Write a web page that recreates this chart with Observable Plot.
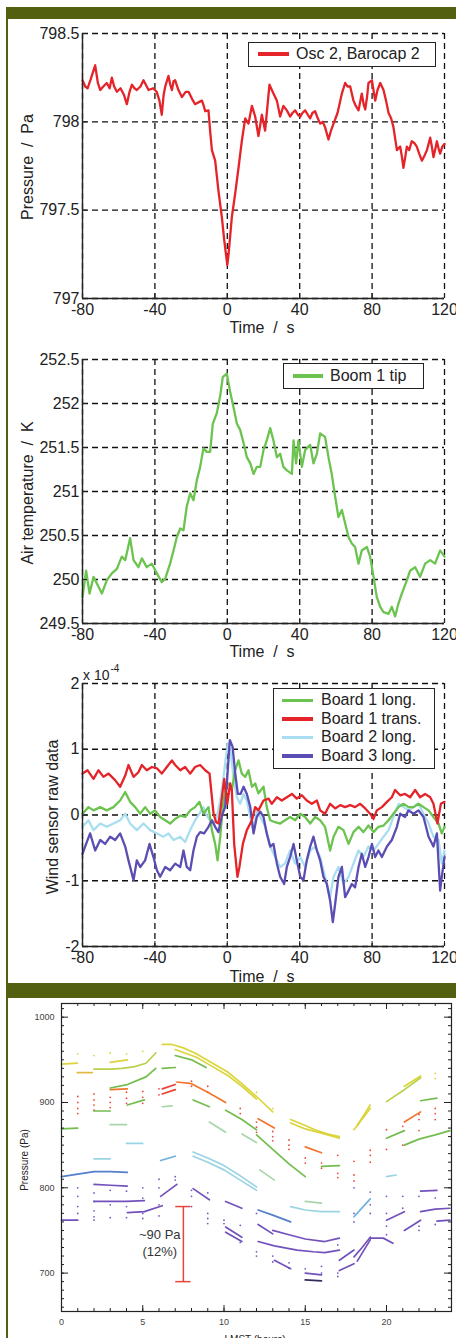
<!DOCTYPE html>
<html><head><meta charset="utf-8">
<script src="https://cdn.jsdelivr.net/npm/d3@7"></script>
<script src="https://cdn.jsdelivr.net/npm/@observablehq/plot@0.6"></script>
<style>
body{margin:0;background:#fff;}
#root{position:relative;width:456px;height:1338px;overflow:hidden;font-family:"Liberation Sans",Arial,sans-serif;color:#222;background:#fff;}
.bar{position:absolute;background:#526010;z-index:5;}
.panel{position:absolute;left:0;}
.lbl{position:absolute;white-space:pre;font-size:16px;line-height:16px;color:#222;}
.legend{position:absolute;border:1.5px solid #222;background:#fff;box-sizing:border-box;z-index:3;}
.legend .sw{position:absolute;height:3.5px;}
.legend .tx{position:absolute;font-size:16px;line-height:16px;white-space:pre;color:#222;}
</style></head>
<body><div id="root"></div>
<script>
// ---------------- DATA ----------------
const timeTicks = [-80, -40, 0, 40, 80, 120];
const pressureTicks = [797, 797.5, 798, 798.5];
const tempTicks = [249.5, 250, 250.5, 251, 251.5, 252, 252.5];
const windTicks = [-2, -1, 0, 1, 2];

// Panel 1: Osc 2, Barocap 2 (time s, pressure Pa)
const baroCap2 = [[-80,798.235],[-78.5,798.2],[-77.2,798.19],[-75.5,798.24],[-73,798.32],[-71.5,798.22],[-70.2,798.18],[-68.5,798.2],[-66.6,798.22],[-65,798.19],[-63.8,798.25],[-62.5,798.2],[-61,798.17],[-59,798.19],[-57,798.15],[-55.5,798.10],[-54,798.17],[-52.7,798.21],[-51.3,798.19],[-50,798.18],[-48,798.2],[-46.3,798.235],[-45,798.21],[-43.5,798.18],[-41,798.19],[-39,798.17],[-37.5,798.12],[-36.2,798.04],[-35.2,798.15],[-34.3,798.2],[-32.5,798.26],[-31.5,798.21],[-30.6,798.18],[-29.7,798.23],[-28.8,798.235],[-27,798.18],[-25.1,798.14],[-23,798.17],[-21.4,798.17],[-19.5,798.13],[-17.8,798.10],[-16,798.11],[-14,798.12],[-13,798.09],[-12.2,798.06],[-10.4,798.065],[-9.5,797.95],[-8.5,797.84],[-6.7,797.78],[-4.9,797.61],[-3,797.46],[-1.7,797.33],[0,797.19],[0.7,797.25],[2.5,797.46],[4.3,797.59],[6.2,797.74],[8,797.89],[9.9,798.02],[11.7,797.99],[13.6,798.09],[15.4,798.03],[17.2,797.92],[19.1,798.04],[20.9,797.95],[23.3,798.21],[25.5,798.16],[27.4,798.12],[29.2,798.03],[31,798.09],[32.9,798.065],[34.7,798.03],[36,798.05],[37.5,798.065],[39,798.04],[40.3,798.03],[41.5,798.05],[43,798.065],[44.5,798.04],[45.8,798.02],[47,798.05],[48.5,798.06],[50,798.02],[51.3,797.99],[52.7,798.0],[54,797.97],[55.9,797.9],[57.3,797.95],[58.7,797.99],[60.9,798.05],[62,798.1],[63.3,798.16],[65.1,798.22],[66.5,798.2],[67.9,798.2],[69.7,798.12],[71,798.09],[72.5,798.065],[74.3,798.16],[75.3,798.1],[76.2,798.07],[77.2,798.14],[78,798.22],[79.9,798.235],[81.7,798.12],[83,798.18],[84.5,798.22],[86.3,798.18],[87.7,798.12],[89.1,798.05],[90.5,798.02],[91.8,797.97],[93.7,797.84],[95.5,797.86],[96.5,797.8],[97.3,797.74],[98.3,797.8],[99.2,797.86],[100.5,797.84],[101.9,797.89],[103.3,797.88],[104.7,797.86],[106,797.82],[107.5,797.78],[109,797.81],[110.3,797.84],[112.1,797.91],[113,797.86],[113.9,797.8],[115,797.85],[115.8,797.89],[116.7,797.85],[117.6,797.82],[118.8,797.86],[120,797.875]];

// Panel 2: Boom 1 tip (time s, air temperature K)
const boom1Tip = [[-80,249.80],[-78,250.1],[-76.1,249.84],[-73.9,250.03],[-71.2,249.92],[-69.3,249.84],[-66.6,249.99],[-63.8,250.07],[-61,250.12],[-58.3,250.26],[-56.4,250.22],[-53.7,250.47],[-51.8,250.22],[-49.1,250.14],[-47.2,250.24],[-44.5,250.14],[-41.7,250.18],[-38.9,250.07],[-36.2,249.97],[-34.3,250.01],[-31.6,250.18],[-29.7,250.33],[-27.9,250.48],[-26,250.58],[-24.2,250.56],[-22.4,250.83],[-20.5,250.98],[-18.7,250.9],[-16.8,251.13],[-15,251.28],[-13.2,251.49],[-11.3,251.45],[-9.5,251.45],[-8,251.77],[-5.8,251.89],[-3.9,252.09],[-2.5,252.30],[-0.3,252.34],[1.6,252.13],[3.4,251.96],[5.3,251.77],[7.1,251.70],[9,251.55],[10.8,251.39],[12.7,251.32],[14.5,251.2],[16.3,251.28],[18.2,251.28],[20,251.47],[21.8,251.58],[23.7,251.72],[25.5,251.58],[27.4,251.39],[29.2,251.43],[31,251.28],[32.9,251.24],[35.7,251.2],[36.6,251.58],[38,251.32],[39.3,251.58],[41.2,251.28],[43,251.47],[45.8,251.53],[47.6,251.32],[49.5,251.43],[51.3,251.66],[54,251.62],[55.9,251.39],[57.7,251.2],[59.6,250.94],[61.4,250.71],[63.3,250.79],[65.1,250.64],[67,250.48],[68.8,250.41],[70.6,250.37],[72.5,250.18],[74.3,250.33],[77.1,250.37],[78.9,250.26],[80.8,250.03],[82.6,249.80],[84.5,249.69],[86.3,249.63],[89.1,249.61],[90.9,249.69],[92.7,249.58],[94.6,249.73],[96.4,249.84],[99.2,249.99],[101,250.1],[103.8,250.14],[106.5,250.03],[109.3,250.18],[112.1,250.22],[114.8,250.18],[117.6,250.33],[120,250.26]];

// Panel 3: wind sensor raw data (units of 1e-4)
const board1Long = [[-80,0.02],[-76.7,0.12],[-73.9,0.07],[-70.2,0.12],[-66.6,0.07],[-62.9,0.12],[-59.2,0.22],[-56.4,0.35],[-53.7,0.20],[-50.9,0.12],[-48.1,0.02],[-45.4,0.12],[-42.6,0.02],[-39.9,0.07],[-37.1,-0.03],[-34.3,-0.08],[-31.6,-0.13],[-28.8,-0.06],[-26,-0.01],[-23.3,-0.03],[-20.5,0.07],[-17.8,0.12],[-15.4,0.20],[-13.2,0.02],[-10.4,0.12],[-8.5,-0.23],[-6.7,-0.44],[-5.4,-0.69],[-3.9,-0.33],[-2.5,0.12],[-1.2,0.38],[0.7,0.48],[2.5,0.38],[4.3,0.68],[6.2,0.83],[8,0.63],[9.9,0.58],[11.7,0.68],[13.6,0.43],[15.4,0.48],[17.2,0.33],[20,0.43],[21.8,0.12],[23.7,-0.08],[26.4,-0.11],[29.2,-0.13],[31.9,-0.08],[34.7,-0.03],[37.5,-0.08],[40.3,0.02],[43,-0.03],[45.8,-0.13],[48.5,-0.03],[51.3,-0.08],[54,-0.18],[56.8,-0.54],[58.7,-0.33],[61.4,-0.18],[64.2,-0.23],[67,-0.44],[69.7,-0.26],[72.5,-0.18],[75.2,-0.26],[78,-0.16],[80.8,-0.26],[83.5,-0.18],[86.3,-0.16],[89.1,-0.08],[91.8,0.02],[94.6,0.12],[97.3,0.17],[100.1,0.12],[102.9,0.12],[105.6,0.17],[108.4,0.12],[111.2,0.07],[113.9,-0.03],[116.7,-0.13],[118.5,-0.28],[120,-0.18]];
const board1Trans = [[-80,0.63],[-77.2,0.68],[-73.9,0.55],[-71.2,0.68],[-68.4,0.58],[-65.6,0.63],[-62,0.53],[-59.2,0.43],[-56.4,0.60],[-54.6,0.76],[-51.8,0.58],[-49.1,0.65],[-47.2,0.76],[-44.5,0.68],[-41.7,0.73],[-38.9,0.71],[-36.2,0.63],[-33.4,0.73],[-30.6,0.83],[-28.8,0.76],[-26,0.68],[-23.3,0.73],[-20.5,0.63],[-17.8,0.73],[-15,0.76],[-12.2,0.68],[-9.8,0.63],[-8.9,0.38],[-7.6,0.02],[-6.2,-0.11],[-4.9,-0.13],[-3.6,0.12],[-2.5,0.38],[-1.7,0.55],[0,0.17],[1.6,0.48],[2.5,0.38],[3.8,-0.44],[5.6,-0.94],[6.7,-0.79],[8.6,-0.44],[10.8,-0.23],[13.6,-0.08],[15.4,0.12],[17.2,0.07],[20,0.22],[22.8,0.25],[24.6,0.17],[27.4,0.27],[30.1,0.22],[32.9,0.27],[35.7,0.32],[38.4,0.25],[41.2,0.30],[43.9,0.22],[46.7,0.17],[49.5,0.22],[51.3,0.07],[54,0.02],[56.8,0.17],[59.6,0.10],[62.4,0.15],[65.1,0.12],[67.9,0.15],[70.6,0.12],[73.4,0.17],[76.2,0.10],[78.9,0.02],[80.8,-0.06],[82.6,0.07],[85.4,0.12],[88.2,0.20],[90.9,0.27],[92.7,0.38],[95.5,0.30],[98.2,0.32],[101,0.27],[103.8,0.38],[106.5,0.27],[109.3,0.32],[112.1,0.27],[113.9,0.17],[116.1,-0.13],[118,0.17],[120,0.20]];
const board2Long = [[-80,-0.18],[-76.7,-0.08],[-73.9,-0.23],[-70.2,-0.13],[-66.6,-0.18],[-62.9,-0.13],[-59.2,-0.08],[-56.4,0.02],[-53.7,-0.13],[-50,-0.23],[-46.3,-0.13],[-42.6,-0.23],[-38.9,-0.28],[-35.3,-0.33],[-32.5,-0.28],[-29.7,-0.38],[-26,-0.33],[-23.3,-0.41],[-20.5,-0.23],[-17.8,-0.08],[-15.4,0.02],[-13.2,0.12],[-11.3,-0.01],[-9.5,-0.08],[-7.6,-0.13],[-5.8,-0.03],[-3.9,0.22],[-2.5,0.48],[-1,0.83],[0.5,1.09],[2,0.93],[3.4,0.58],[5.3,0.27],[7.1,0.17],[9,0.32],[10.8,0.22],[12.7,-0.03],[14.5,-0.23],[16.3,0.07],[18.2,-0.03],[20.9,-0.18],[23.7,-0.48],[26.4,-0.64],[29.2,-0.79],[31.9,-0.74],[34.7,-0.54],[37.5,-0.74],[40.3,-0.64],[43,-0.79],[45.8,-0.54],[48.5,-0.48],[51.3,-0.64],[54,-0.94],[56.8,-1.25],[58.7,-0.94],[61.4,-0.79],[64.2,-1.05],[67,-0.94],[69.7,-0.74],[72.5,-0.54],[75.2,-0.64],[78,-0.48],[80.8,-0.54],[83.5,-0.44],[86.3,-0.33],[89.1,-0.23],[91.8,-0.03],[94.6,0.17],[97.3,0.12],[100.1,0.07],[102.9,0.12],[105.6,0.17],[108.4,0.02],[111.2,-0.13],[113.9,-0.33],[116.7,-0.38],[118.5,-0.74],[120,-0.54]];
const board3Long = [[-80,-0.59],[-78,-0.44],[-75.8,-0.28],[-73,-0.54],[-70.2,-0.38],[-67.5,-0.44],[-64.7,-0.33],[-62,-0.38],[-59.2,-0.28],[-56.4,-0.48],[-54.6,-0.69],[-51.8,-0.99],[-50,-0.69],[-48.1,-0.79],[-45.4,-0.69],[-43,-0.44],[-40.8,-0.64],[-38.9,-0.84],[-37.1,-0.94],[-34.3,-0.79],[-31.6,-0.84],[-28.8,-0.74],[-26,-0.79],[-24.2,-0.54],[-22.4,-0.79],[-20.5,-0.84],[-18.7,-0.54],[-16.8,-0.33],[-15,-0.26],[-12.8,-0.28],[-10.4,-0.18],[-8.5,-0.08],[-6.7,-0.18],[-4.9,-0.26],[-3,-0.01],[-1.2,0.12],[0,0.58],[1.4,1.14],[2.9,1.04],[4.4,0.63],[5.8,0.32],[7.3,0.32],[9,0.43],[10.8,0.32],[12.7,0.12],[14.5,-0.28],[16.3,-0.03],[18.2,0.05],[20,-0.03],[21.8,-0.28],[23.7,-0.48],[25.5,-0.44],[27.4,-0.74],[29.2,-0.94],[31.4,-1.05],[32.9,-0.79],[34.7,-0.64],[36.6,-0.44],[38.4,-0.69],[40.3,-0.94],[42.1,-0.99],[43.9,-0.69],[45.8,-0.48],[47.6,-0.33],[49.5,-0.54],[51.3,-0.69],[53.1,-0.94],[55,-1.05],[56.8,-1.30],[58.3,-1.63],[59.6,-1.35],[61.4,-0.94],[63.3,-0.79],[65.1,-1.25],[67,-1.15],[68.8,-1.05],[70.6,-1.10],[72.5,-0.79],[74.3,-0.59],[76.2,-0.79],[78,-0.64],[79.9,-0.44],[81.7,-0.64],[83.5,-0.54],[85.4,-0.64],[88.2,-0.48],[90.9,-0.38],[93.7,-0.18],[95.5,0.02],[98.2,-0.03],[100.1,0.07],[102.9,0.02],[105.6,0.07],[108.4,-0.03],[111.2,-0.33],[113.9,-0.48],[115.8,-0.28],[117.6,-1.15],[118.5,-0.94],[120,-0.64]];

// Panel 4: diurnal pressure curves (LMST hours, Pa), band = colour group
const lmstHourTicks = [0, 5, 10, 15, 20];
const lmstPressureTicks = [700, 800, 900, 1000];
const lmstTraces = [
  ["y", [[0,945],[0.97,946]]],
  ["yo", [[0.97,935],[1.9,935]]],
  ["y", [[3.0,947],[4.05,950]]],
  ["y", [[6.2,968],[6.8,968],[7.5,964],[8.3,957],[9.3,946],[10.2,936],[11.1,922],[12,907],[13,889]]],
  ["y", [[7.0,962],[8.3,953],[9.3,942],[10.2,932],[11.1,919],[12,904]]],
  ["y", [[14.1,880],[15,873],[15.6,868],[16.4,863],[17.1,860]]],
  ["y", [[14.1,876],[15,869],[16,864],[17.1,858]]],
  ["y", [[18,868],[19,893]]],
  ["y", [[18.2,873],[19,897]]],
  ["y", [[21.1,919],[22.1,931]]],
  ["yg", [[2,939],[3,939],[3.74,940],[4.5,942],[5.2,946],[5.8,958]]],
  ["yg", [[20,901],[21.1,915],[22.1,929]]],
  ["o", [[3.0,915],[4.05,916]]],
  ["o", [[7.1,924],[8.0,922],[9.0,912],[10.1,900]]],
  ["o", [[12.1,881],[13.1,870]]],
  ["o", [[15,848],[16,841]]],
  ["o", [[21.1,877],[22.1,889]]],
  ["r", [[6.2,916],[7.0,921]]],
  ["r", [[6.2,910],[7.0,915]]],
  ["g", [[3.0,917],[4.05,921],[5.2,930],[5.8,940]]],
  ["g", [[6.2,940],[7.0,941]]],
  ["g", [[7.0,955],[8.0,950],[8.9,941]]],
  ["g", [[2,890],[3,890]]],
  ["g", [[4.05,897],[5.1,903]]],
  ["g", [[0,869],[1,870]]],
  ["g", [[8.1,903],[9.1,895]]],
  ["g", [[10.1,891],[11.1,880],[12,868]]],
  ["g", [[12,862],[13,845],[14,828],[15,813]]],
  ["g", [[16,825],[17.1,826]]],
  ["g", [[20,858],[21.1,867]]],
  ["g", [[21.1,850],[22,857],[23,862],[23.9,867]]],
  ["g", [[22.1,902],[23.1,905]]],
  ["lg", [[3,874],[4,874]]],
  ["lg", [[6.2,895],[6.8,896]]],
  ["lg", [[9.1,877],[10.1,865]]],
  ["lg", [[11.1,863],[12,853]]],
  ["lg", [[12.2,821],[13.1,809]]],
  ["lg", [[15,784],[16,782]]],
  ["c", [[4,852],[5,852]]],
  ["c", [[2,834],[3,834]]],
  ["c", [[8.1,842],[9,835],[10,826],[11,814],[12,801]]],
  ["c", [[8.1,837],[9,830],[10,821],[11,809],[12,797]]],
  ["c", [[14.1,778],[15,774],[16,772],[17.1,772]]],
  ["c", [[20,813],[20.6,815]]],
  ["lb", [[6.1,832],[7.0,837]]],
  ["lb", [[18,766],[19,787]]],
  ["b", [[0,813],[1,816],[2,819],[3,819],[4.05,818]]],
  ["b", [[12.1,774],[13,768],[14.1,760]]],
  ["p", [[2,804],[3,803],[4.05,802]]],
  ["p", [[2,784],[3,784],[4,784],[5.1,785]]],
  ["p", [[4.05,771],[5.1,772],[6.2,779]]],
  ["p", [[6.1,790],[6.6,797],[7.1,804]]],
  ["p", [[0,762],[1,762]]],
  ["p", [[8.1,799],[9.1,786]]],
  ["p", [[10.1,784],[11.1,776]]],
  ["p", [[10.1,754],[11.1,742]]],
  ["p", [[10.1,748],[11.1,737]]],
  ["p", [[12.1,757],[13,746]]],
  ["p", [[13,750],[14,745],[15,740],[16.2,737],[17.1,741]]],
  ["p", [[12.1,737],[13.1,732],[14.5,727],[15.5,725],[16.2,724],[17.1,727]]],
  ["p", [[13.1,715],[14.1,705]]],
  ["p", [[15,700],[16,698]]],
  ["p", [[17.1,715],[18,727]]],
  ["p", [[17.1,703],[18,711]]],
  ["p", [[18,719],[18.5,730],[19,742]]],
  ["p", [[18.2,714],[19,739]]],
  ["p", [[19,741],[19.8,741],[20.4,735]]],
  ["p", [[20,762],[21.1,772]]],
  ["p", [[21.1,750],[22.1,762]]],
  ["p", [[22.1,772],[23,775],[23.9,776]]],
  ["p", [[22.1,796],[23.1,797]]],
  ["p", [[23.1,761],[23.9,762]]],
  ["k", [[15,692],[16,691]]]
];
const lmstDots = [
  ["r",1,907],["r",1,900],["r",1,893],["r",1,887],["r",2,910],["r",2,903],["r",2,897],["r",2,891],
  ["r",3,906],["r",3,900],["r",3,894],["r",4,912],["r",4,905],["r",4,899],["r",5,913],["r",5,906],["r",5,899],
  ["r",6,916],["r",6,909],["r",8,925],["r",8,919],["r",9,919],["r",9,912],["r",11,893],["r",11,887],
  ["r",12,877],["r",12,871],["r",12,865],["r",13,866],["r",13,860],["r",13,855],["r",14,856],["r",14,850],["r",14,845],
  ["r",15,835],["r",15,829],["r",16,829],["r",16,823],["r",17,838],["r",17,817],["r",17,812],
  ["r",18,831],["r",18,815],["r",18,808],["r",19,844],["r",19,838],["r",19,830],["r",20,868],["r",20,845],
  ["r",21,872],["r",21,850],["r",22,886],["r",22,880],["r",22,867],["r",23,893],["r",23,887],["r",23,880],
  ["y",1,957],["y",2,955],["y",3,958],["y",4,957],["y",5,960],["y",23,928],["y",23,934],["y",12,912],["y",13,893],
  ["p",1,800],["p",1,790],["p",1,778],["p",1,770],["p",2,794],["p",2,784],["p",2,773],["p",2,766],["p",2,762],
  ["p",3,797],["p",3,780],["p",3,765],["p",4,796],["p",4,778],["p",4,765],["p",5,800],["p",5,788],["p",5,770],["p",5,764],
  ["p",6,810],["p",6,800],["p",6,780],["p",6,767],["p",7,813],["p",7,809],["p",8,797],["p",8,790],["p",8,778],
  ["p",9,794],["p",9,770],["p",9,764],["p",9,758],["p",10,762],["p",10,758],["p",11,756],["p",11,736],
  ["p",12,770],["p",12,725],["p",12,720],["p",13,720],["p",13,713],["p",14,712],["p",14,706],["p",15,705],
  ["p",16,700],["p",16,708],["p",17,733],["p",17,700],["p",17,696],["p",18,800],["p",18,770],["p",18,760],
  ["p",19,795],["p",19,780],["p",19,770],["p",20,790],["p",20,770],["p",20,755],["p",20,745],
  ["p",21,790],["p",21,776],["p",22,790],["p",22,755],["p",22,750],["p",23,788],["p",23,757]
];
const errorBar = [{hour: 7.5, low: 690, high: 778, half: 0.47}];
const annotations = [{hour: 6.05, p: 745, text: "~90 Pa"}, {hour: 6.05, p: 725, text: "(12%)"}];

// ---------------- STYLES ----------------
const colRed = "#e5242a", colGreen = "#6cc34f", colLight = "#a9def0", colPurple = "#5a4db3";
const bandKeys = ["y","yo","yg","o","r","g","lg","c","lb","b","p","k"];
const bandColors = ["#d9d232","#e2b43a","#b5cf3e","#ef6e22","#e8372a","#6cb845","#a2d4a4","#93d2e2","#66acd8","#4b78c6","#6a48b8","#2a2050"];

// ---------------- LAYOUT HELPERS ----------------
const root = document.getElementById("root");
function add(el, css) { Object.assign(el.style, css); root.appendChild(el); return el; }
function div(cls, css, text) { const d = document.createElement("div"); d.className = cls; if (text != null) d.textContent = text; return add(d, css); }
const rows = (pts) => pts.map(([x, y]) => ({x, y}));

const W = 456;
function timePanel({top, height, mt, mb, yDomain, yTicks, series}) {
  const ml = 82, mr = 12;
  const pw = W - ml - mr, ph = height - mt - mb;
  const grid = {stroke: "#111", strokeOpacity: 1, strokeWidth: 1.3, strokeDasharray: "6,4"};
  const svg = Plot.plot({
    width: W, height, marginLeft: ml, marginRight: mr, marginTop: mt, marginBottom: mb,
    x: {domain: [timeTicks[0], timeTicks[timeTicks.length - 1]]},
    y: {domain: yDomain},
    style: {fontFamily: "'Liberation Sans', Arial, sans-serif", fontSize: "16px", color: "#222", background: "transparent", overflow: "visible"},
    marks: [
      Plot.gridX(timeTicks, grid),
      Plot.gridY(yTicks, grid),
      ...series.map(s => Plot.line(rows(s.data), {x: "x", y: "y", stroke: s.color, strokeWidth: 2.3, curve: "linear"})),
      Plot.ruleX([timeTicks[0]], {stroke: "#222", strokeWidth: 1.4}),
      Plot.ruleY([yTicks[0]], {stroke: "#222", strokeWidth: 1.4}),
      Plot.tickY(yTicks, {y: d => d, insetRight: pw - 5, stroke: "#222"}),
      Plot.tickX(timeTicks, {x: d => d, insetTop: ph - 5, stroke: "#222"}),
      Plot.axisX({ticks: timeTicks, tickSize: 0, tickPadding: 5, label: null, fontSize: 16, tickFormat: d => String(d)}),
      Plot.axisY({ticks: yTicks, tickSize: 0, tickPadding: 3, label: null, fontSize: 16, tickFormat: d => String(d)})
    ]
  });
  svg.classList.add("panel");
  svg.style.top = top + "px";
  svg.style.position = "absolute";
  root.appendChild(svg);
}
function legend(left, top, width, height, items, rowCenters, swL, swW, txL) {
  const box = div("legend", {left: left + "px", top: top + "px", width: width + "px", height: height + "px"});
  items.forEach((it, i) => {
    const sw = document.createElement("div"); sw.className = "sw";
    Object.assign(sw.style, {left: swL + "px", width: swW + "px", top: (rowCenters[i] - 1.75) + "px", background: it.color});
    box.appendChild(sw);
    const tx = document.createElement("div"); tx.className = "tx"; tx.textContent = it.label;
    Object.assign(tx.style, {left: txL + "px", top: (rowCenters[i] - 8.5) + "px"});
    box.appendChild(tx);
  });
}
function ylabel(text, cx, cy, size) {
  div("lbl", {left: cx + "px", top: cy + "px", transform: "translate(-50%,-50%) rotate(-90deg)", fontSize: (size || 16) + "px"}, text);
}
function xlabel(text, cx, cy, size) {
  div("lbl", {left: cx + "px", top: cy + "px", transform: "translate(-50%,-50%)", fontSize: (size || 16) + "px"}, text);
}

// ---------------- PANEL 1 ----------------
timePanel({top: 19, height: 320, mt: 14, mb: 41, yDomain: [797, 798.5], yTicks: pressureTicks,
  series: [{data: baroCap2, color: colRed}]});
legend(248, 42, 188, 25, [{label: "Osc 2, Barocap 2", color: colRed}], [11], 9, 31, 47);
ylabel("Pressure  /  Pa", 28, 167);
xlabel("Time  /  s", 262, 328);

// ---------------- PANEL 2 ----------------
timePanel({top: 339, height: 321, mt: 20, mb: 37, yDomain: [249.5, 252.5], yTicks: tempTicks,
  series: [{data: boom1Tip, color: colGreen}]});
legend(283, 363, 141, 26, [{label: "Boom 1 tip", color: colGreen}], [12], 9, 30, 46);
ylabel("Air temperature  /  K", 28, 493);
xlabel("Time  /  s", 262, 652);

// ---------------- PANEL 3 ----------------
timePanel({top: 660, height: 323, mt: 23, mb: 37, yDomain: [-2, 2], yTicks: windTicks,
  series: [
    {data: board2Long, color: colLight},
    {data: board1Long, color: colGreen},
    {data: board3Long, color: colPurple},
    {data: board1Trans, color: colRed}
  ]});
legend(273, 688, 162, 81, [
  {label: "Board 1 long.", color: colGreen},
  {label: "Board 1 trans.", color: colRed},
  {label: "Board 2 long.", color: colLight},
  {label: "Board 3 long.", color: colPurple}
], [11.5, 30, 48.5, 67], 8, 31, 47);
ylabel("Wind sensor raw data", 53, 817);
xlabel("Time  /  s", 262, 977);
const expo = div("lbl", {left: "83px", top: "668px", fontSize: "14px", lineHeight: "14px"}, "x 10");
const sup = document.createElement("span"); sup.textContent = "-4";
Object.assign(sup.style, {fontSize: "10px", position: "relative", top: "-8px", marginLeft: "1px"});
expo.appendChild(sup);

// ---------------- PANEL 4 ----------------
(function () {
  const ml = 61, mr = 5, mt = 5, mb = 27, height = 340;
  const pw = W - ml - mr, ph = height - mt - mb;
  const hours = d3.range(0, 25);
  const minorP = d3.range(660, 1011, 10);
  const traceRows = lmstTraces.flatMap(([band, pts], i) => pts.map(([h, p]) => ({id: i, band, h, p})));
  const dotRows = lmstDots.map(([band, h, p]) => ({band, h, p}));
  const svg = Plot.plot({
    width: W, height, marginLeft: ml, marginRight: mr, marginTop: mt, marginBottom: mb,
    x: {domain: [0, 24]},
    y: {domain: [655, 1016]},
    color: {domain: bandKeys, range: bandColors},
    style: {fontFamily: "'Liberation Sans', Arial, sans-serif", fontSize: "9px", color: "#444", background: "transparent", overflow: "visible"},
    marks: [
      Plot.dot(dotRows, {x: "h", y: "p", fill: "band", r: 0.9, stroke: null, fillOpacity: 0.9}),
      Plot.line(traceRows, {x: "h", y: "p", z: "id", stroke: "band", strokeWidth: 1.7, strokeOpacity: 0.95}),
      Plot.ruleX(errorBar, {x: "hour", y1: "low", y2: "high", stroke: "#e8453a", strokeWidth: 1.5}),
      Plot.ruleY(errorBar, {y: "low", x1: d => d.hour - d.half, x2: d => d.hour + d.half, stroke: "#e8453a", strokeWidth: 1.5}),
      Plot.ruleY(errorBar, {y: "high", x1: d => d.hour - d.half, x2: d => d.hour + d.half, stroke: "#e8453a", strokeWidth: 1.5}),
      Plot.text(annotations, {x: "hour", y: "p", text: "text", fontSize: 13, fill: "#333"}),
      Plot.frame({stroke: "#222", strokeWidth: 1.2}),
      Plot.tickY(minorP, {y: d => d, insetRight: pw - 3, stroke: "#222"}),
      Plot.tickY(lmstPressureTicks, {y: d => d, insetRight: pw - 7, stroke: "#222"}),
      Plot.tickY(minorP, {y: d => d, insetLeft: pw - 3, stroke: "#222"}),
      Plot.tickY(lmstPressureTicks, {y: d => d, insetLeft: pw - 7, stroke: "#222"}),
      Plot.tickX(hours, {x: d => d, insetTop: ph - 3, stroke: "#222"}),
      Plot.tickX(lmstHourTicks, {x: d => d, insetTop: ph - 6, stroke: "#222"}),
      Plot.tickX(hours, {x: d => d, insetBottom: ph - 3, stroke: "#222"}),
      Plot.tickX(lmstHourTicks, {x: d => d, insetBottom: ph - 6, stroke: "#222"}),
      Plot.axisX({ticks: lmstHourTicks, tickSize: 0, tickPadding: 7, label: null, fontSize: 9, tickFormat: d => String(d)}),
      Plot.axisY({ticks: lmstPressureTicks, tickSize: 0, tickPadding: 7, label: null, fontSize: 9, tickFormat: d => String(d)})
    ]
  });
  svg.classList.add("panel");
  svg.style.top = "998px";
  svg.style.position = "absolute";
  root.appendChild(svg);
  ylabel("Pressure (Pa)", 25, 1160, 10);
  xlabel("LMST (hours)", 255, 1340, 10);
})();

// ---------------- FRAME BARS ----------------
div("bar", {left: "7px", top: "7px", width: "449px", height: "12px"});
div("bar", {left: "6px", top: "7px", width: "2px", height: "977px"});
div("bar", {left: "6px", top: "983px", width: "450px", height: "15px"});
div("bar", {left: "6px", top: "998px", width: "2px", height: "340px"});
</script>
</body></html>
